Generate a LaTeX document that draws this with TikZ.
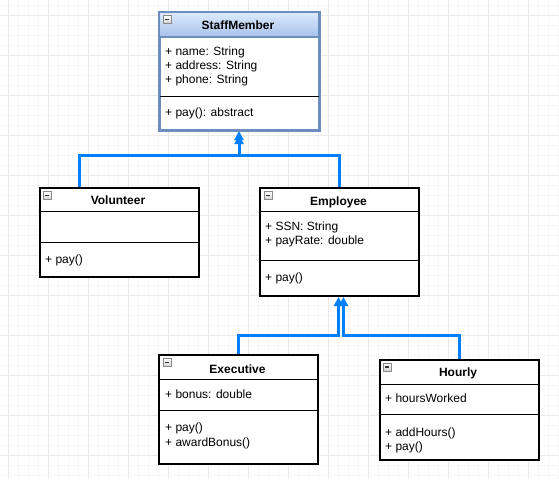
\documentclass[tikz,border=0pt]{standalone}
\usepackage{fontspec}
\setmainfont{Liberation Sans}
\usetikzlibrary{calc,arrows.meta}

\definecolor{gridminor}{HTML}{F7F7F7}
\definecolor{gridmajor}{HTML}{EAEAEA}
\definecolor{headtop}{HTML}{DDEAFC}
\definecolor{headbot}{HTML}{A6C2EA}
\definecolor{staffline}{HTML}{6C8EBF}
\definecolor{inherit}{HTML}{007FFF}
\definecolor{icongray}{HTML}{8A8A8A}

\tikzset{
  classbox/.style={draw=black, line width=2pt, fill=white, rectangle, inner sep=0pt,
    minimum width=159pt, anchor=north west},
  compline/.style={draw=black, line width=1pt},
  ctitle/.style={anchor=base, inner sep=0pt, font=\fontsize{12}{14}\selectfont\bfseries},
  cmember/.style={anchor=base west, inner sep=0pt, font=\fontsize{12}{14}\selectfont},
  minusicon/.style={draw=icongray, line width=0.8pt, top color=white, bottom color=black!18,
    minimum size=8pt, inner sep=0pt, anchor=north west,
    path picture={\draw[black!80, line width=1.3pt]
      ([xshift=2pt]path picture bounding box.west) -- ([xshift=-2pt]path picture bounding box.east);}},
  generalization/.style={draw=inherit, line width=3pt,
    -{Triangle[length=9pt,width=9pt]}},
}

\begin{document}
\begin{tikzpicture}[x=1pt,y=-1pt]
  % canvas and background grid
  \fill[white] (0,0) rectangle (559,479);
  \useasboundingbox (0,0) rectangle (559,479);
  \foreach \x in {8,18,...,558} \draw[gridminor, line width=1pt] (\x,0) -- (\x,479);
  \foreach \y in {5,15,...,475} \draw[gridminor, line width=1pt] (0,\y) -- (559,\y);
  \foreach \x in {8,48,...,558} \draw[gridmajor, line width=1pt] (\x,0) -- (\x,479);
  \foreach \y in {15,55,...,475} \draw[gridmajor, line width=1pt] (0,\y) -- (559,\y);

  % ---------------- StaffMember ----------------
  \node[classbox, draw=staffline, minimum height=117pt] (staff) at (158.5,12) {};
  \shade[top color=headtop, bottom color=headbot] (158.5,12) rectangle (317.5,37);
  \draw[staffline, line width=1.5pt] (staff.west |- 0,37) -- (staff.east |- 0,37);
  \draw[compline] (staff.west |- 0,96) -- (staff.east |- 0,96);
  \draw[staffline, line width=2pt] (staff.north west) rectangle (staff.south east);
  \node[minusicon] (staff-icon) at ($(staff.north west)+(4.5,3)$) {};
  \node[ctitle] (staff-title) at (238,29.5) {StaffMember};
  \node[cmember] (staff-a1) at (165,55.5) {+ name: String};
  \node[cmember] (staff-a2) at (165,69.5) {+ address: String};
  \node[cmember] (staff-a3) at (165,83.5) {+ phone: String};
  \node[cmember] (staff-m1) at (165,116.5) {+ pay(): abstract};

  % ---------------- Volunteer ----------------
  \node[classbox, minimum height=88.5pt] (vol) at (38.5,187) {};
  \draw[compline] (vol.west |- 0,211.5) -- (vol.east |- 0,211.5);
  \draw[compline] (vol.west |- 0,242) -- (vol.east |- 0,242);
  \node[minusicon] (vol-icon) at ($(vol.north west)+(4.5,4)$) {};
  \node[ctitle] (vol-title) at (118,204.8) {Volunteer};
  \node[cmember] (vol-m1) at (45,263.5) {+ pay()};

  % ---------------- Employee ----------------
  \node[classbox, minimum height=108pt] (emp) at (259,187) {};
  \draw[compline] (emp.west |- 0,211.5) -- (emp.east |- 0,211.5);
  \draw[compline] (emp.west |- 0,260) -- (emp.east |- 0,260);
  \node[minusicon] (emp-icon) at ($(emp.north west)+(4.5,4)$) {};
  \node[ctitle] (emp-title) at (338.5,205) {Employee};
  \node[cmember] (emp-a1) at (265,230) {+ SSN: String};
  \node[cmember] (emp-a2) at (265,244.5) {+ payRate: double};
  \node[cmember] (emp-m1) at (265,281.5) {+ pay()};

  % ---------------- Executive ----------------
  \node[classbox, minimum height=109pt] (exec) at (158,354) {};
  \draw[compline] (exec.west |- 0,379) -- (exec.east |- 0,379);
  \draw[compline] (exec.west |- 0,410) -- (exec.east |- 0,410);
  \node[minusicon] (exec-icon) at ($(exec.north west)+(4.5,4)$) {};
  \node[ctitle] (exec-title) at (237.5,373) {Executive};
  \node[cmember] (exec-a1) at (165,398.5) {+ bonus: double};
  \node[cmember] (exec-m1) at (165,431.8) {+ pay()};
  \node[cmember] (exec-m2) at (165,446.3) {+ awardBonus()};

  % ---------------- Hourly ----------------
  \node[classbox, minimum height=100.5pt] (hourly) at (378.5,358.5) {};
  \draw[compline] (hourly.west |- 0,384) -- (hourly.east |- 0,384);
  \draw[compline] (hourly.west |- 0,414) -- (hourly.east |- 0,414);
  \node[minusicon] (hourly-icon) at ($(hourly.north west)+(4.5,4)$) {};
  \node[ctitle] (hourly-title) at (458,376.8) {Hourly};
  \node[cmember] (hourly-a1) at (385,402) {+ hoursWorked};
  \node[cmember] (hourly-m1) at (385,436.8) {+ addHours()};
  \node[cmember] (hourly-m2) at (385,450.3) {+ pay()};

  % ---------------- generalizations ----------------
  \draw[generalization] ($(vol.north west)+(40.5,0)$) -- ++(0,-32) -| (staff.south);
  \draw[generalization, shorten >=4pt] (emp.north) -- ++(0,-32) -| (staff.south);
  \draw[generalization] (exec.north) -- ++(0,-19) -| ($(emp.south)+(-1,0)$);
  \draw[generalization] (hourly.north) -- ++(0,-23.5) -| ($(emp.south)+(4,0)$);
\end{tikzpicture}
\end{document}
